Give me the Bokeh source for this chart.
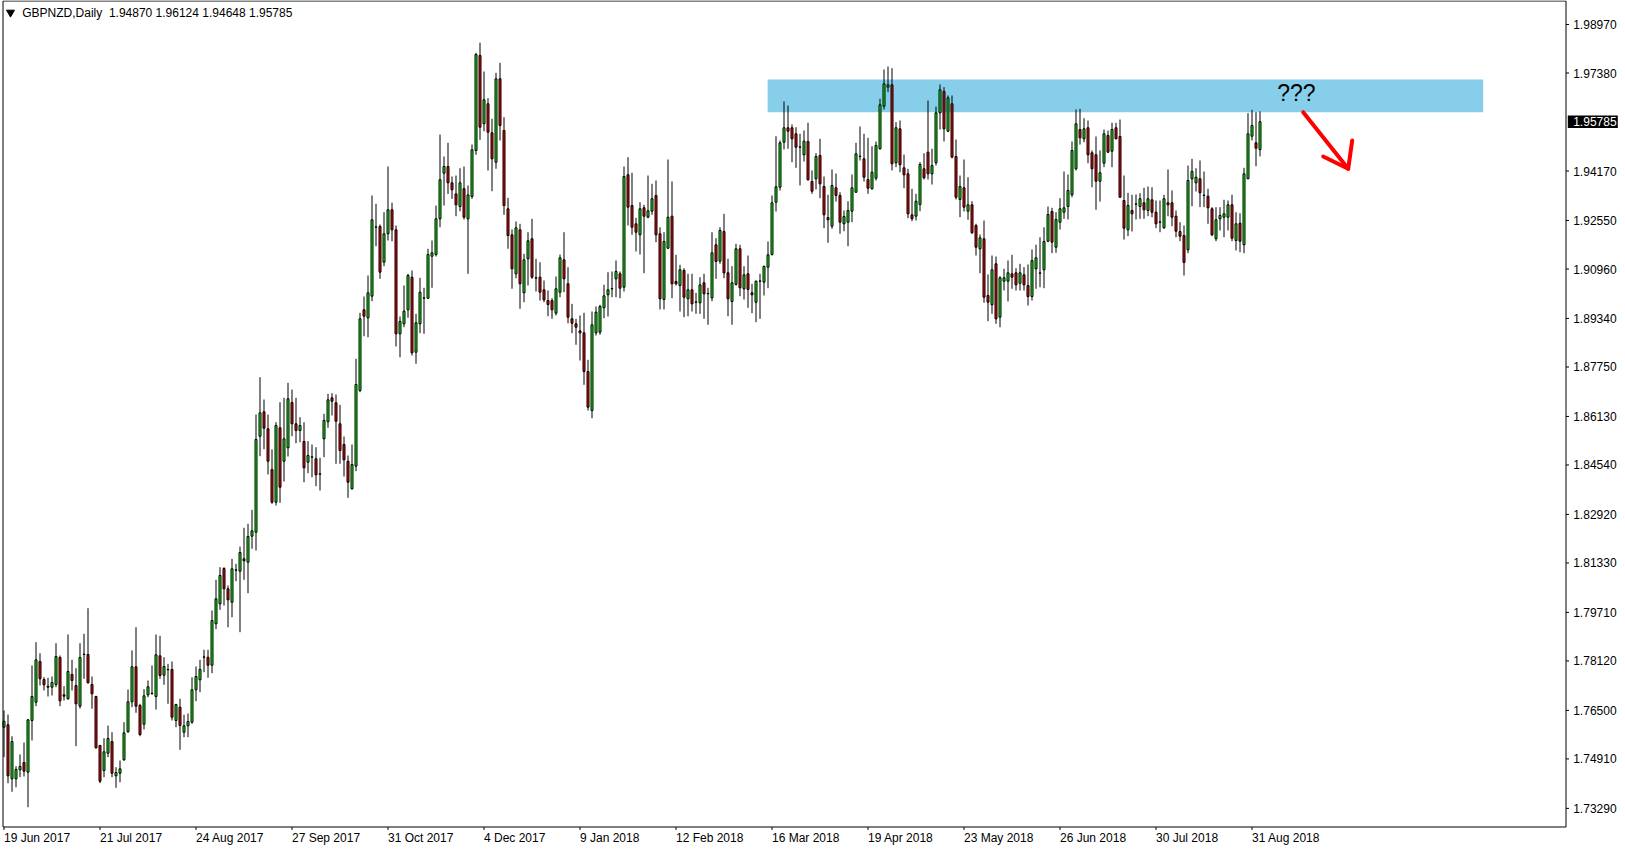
from bokeh.plotting import figure
from bokeh.models import Range1d, ColumnDataSource
from bokeh.embed import file_html
from bokeh.resources import INLINE
from bokeh.core.properties import value

SYMBOL = "GBPNZD,Daily"

OPEN = [
    1.75949, 1.76028, 1.74259, 1.74259, 1.74554, 1.74793, 1.74475, 1.76169, 1.76768, 1.78102,
    1.77512, 1.77292, 1.77260, 1.77348, 1.78233, 1.77011, 1.76880, 1.77676, 1.77315, 1.76637,
    1.78331, 1.78331, 1.77348, 1.76955, 1.75350, 1.74531, 1.75098, 1.75481, 1.74357, 1.74442,
    1.74881, 1.75799, 1.76781, 1.77928, 1.76660, 1.76048, 1.77011, 1.77053, 1.76955, 1.78288,
    1.77653, 1.77841, 1.77841, 1.76169, 1.76605, 1.75786, 1.75995, 1.76113, 1.77175, 1.77502,
    1.78242, 1.78242, 1.77980, 1.79337, 1.79992, 1.81148, 1.80483, 1.80044, 1.81093, 1.81060,
    1.81466, 1.81355, 1.82207, 1.82338, 1.85482, 1.86282, 1.85725, 1.84392, 1.83320, 1.85758,
    1.84663, 1.85102, 1.86586, 1.85889, 1.85669, 1.85309, 1.84631, 1.84795, 1.84742, 1.84238,
    1.85397, 1.85954, 1.86740, 1.86577, 1.85889, 1.85211, 1.84663, 1.83759, 1.84500, 1.86980,
    1.89623, 1.89361, 1.90069, 1.92329, 1.92352, 1.91183, 1.92113, 1.92899, 1.92244, 1.88837,
    1.89165, 1.89623, 1.90691, 1.88234, 1.89165, 1.90003, 1.90003, 1.91379, 1.91435, 1.92604,
    1.94098, 1.94318, 1.93784, 1.93420, 1.93007, 1.93591, 1.92604, 1.93335, 1.94842, 1.97954,
    1.95717, 1.96372, 1.95422, 1.94459, 1.97191, 1.95497, 1.92932, 1.92080, 1.90802, 1.92244,
    1.90180, 1.91294, 1.91950, 1.90672, 1.90691, 1.90278, 1.89928, 1.89928, 1.89512, 1.90200,
    1.91261, 1.90475, 1.89328, 1.89165, 1.88934, 1.88868, 1.87602, 1.86324, 1.88870, 1.88889,
    1.89689, 1.90115, 1.90311, 1.90639, 1.90802, 1.90364, 1.94046, 1.93040, 1.92440, 1.92080,
    1.92965, 1.92657, 1.92854, 1.93368, 1.92113, 1.89961, 1.91641, 1.92690, 1.90550, 1.90420,
    1.90911, 1.89984, 1.90278, 1.89872, 1.89853, 1.90508, 1.90147, 1.90016, 1.91753, 1.91216,
    1.92188, 1.90835, 1.89895, 1.90452, 1.91622, 1.90311, 1.90802, 1.90180, 1.89872, 1.90560,
    1.90528, 1.91019, 1.91435, 1.93148, 1.93640, 1.95114, 1.95586, 1.95586, 1.95389, 1.94950,
    1.94701, 1.95137, 1.93826, 1.93915, 1.94678, 1.93663, 1.92647, 1.92362, 1.93620, 1.93368,
    1.92440, 1.92493, 1.92854, 1.93476, 1.94645, 1.94570, 1.93892, 1.93587, 1.93935, 1.94898,
    1.96293, 1.96916, 1.96994, 1.94439, 1.95553, 1.94275, 1.94079, 1.92735, 1.92690, 1.93073,
    1.94243, 1.94786, 1.94079, 1.94439, 1.96077, 1.96775, 1.95474, 1.96372, 1.94645, 1.93237,
    1.93620, 1.92854, 1.93063, 1.92385, 1.91622, 1.91949, 1.90092, 1.89787, 1.91130, 1.89381,
    1.90560, 1.90560, 1.90802, 1.90835, 1.90495, 1.90770, 1.90420, 1.90059, 1.90966, 1.90822,
    1.90934, 1.91871, 1.92844, 1.91674, 1.92493, 1.92821, 1.93007, 1.93391, 1.94243, 1.95530,
    1.95225, 1.95586, 1.94767, 1.94701, 1.93836, 1.94426, 1.95334, 1.94819, 1.95586, 1.95301,
    1.93204, 1.92244, 1.92876, 1.93083, 1.93007, 1.93129, 1.92876, 1.93227, 1.92821, 1.92493,
    1.92310, 1.93129, 1.93129, 1.92690, 1.92188, 1.92057, 1.91589, 1.93915, 1.93784, 1.93915,
    1.93368, 1.93345, 1.92932, 1.91950, 1.92604, 1.92657, 1.92657, 1.93063, 1.91894, 1.92460,
    1.91753, 1.93915, 1.95310, 1.95094, 1.94870,
]

HIGH = [
    1.76496, 1.76365, 1.75654, 1.74672, 1.75055, 1.75448, 1.76220, 1.77971, 1.78734, 1.78374,
    1.77587, 1.77568, 1.77610, 1.78701, 1.78298, 1.77292, 1.78986, 1.78157, 1.77882, 1.78701,
    1.79009, 1.79848, 1.77610, 1.76980, 1.75370, 1.75589, 1.76005, 1.75786, 1.74639, 1.74858,
    1.76113, 1.77184, 1.78462, 1.79225, 1.76716, 1.77194, 1.77479, 1.77971, 1.78986, 1.78944,
    1.78242, 1.78026, 1.78102, 1.76716, 1.76880, 1.76356, 1.76398, 1.77587, 1.77938, 1.78157,
    1.78485, 1.78485, 1.79772, 1.80778, 1.81191, 1.81191, 1.80591, 1.81466, 1.81302, 1.81869,
    1.82482, 1.82613, 1.83071, 1.86193, 1.87415, 1.86685, 1.86193, 1.85047, 1.85941, 1.86596,
    1.86740, 1.87232, 1.87012, 1.86740, 1.86105, 1.85941, 1.85319, 1.85211, 1.85122, 1.84775,
    1.86216, 1.86871, 1.86891, 1.86849, 1.86511, 1.85473, 1.84850, 1.85211, 1.88018, 1.89525,
    1.90059, 1.90747, 1.93368, 1.93096, 1.92418, 1.92821, 1.94318, 1.93129, 1.92385, 1.89404,
    1.90420, 1.90803, 1.90911, 1.89492, 1.90672, 1.90344, 1.91622, 1.91894, 1.93040, 1.95366,
    1.94645, 1.95094, 1.93990, 1.94023, 1.94262, 1.94318, 1.93695, 1.95039, 1.98043, 1.98370,
    1.97430, 1.96555, 1.95881, 1.97387, 1.97715, 1.95934, 1.93292, 1.92254, 1.92516, 1.92440,
    1.91458, 1.92165, 1.92604, 1.91294, 1.91183, 1.90583, 1.90256, 1.90003, 1.90714, 1.91435,
    1.92165, 1.91019, 1.89819, 1.89328, 1.89437, 1.89525, 1.87985, 1.89568, 1.89731, 1.89787,
    1.90442, 1.90855, 1.90878, 1.91238, 1.90878, 1.94318, 1.94623, 1.94112, 1.92637, 1.93148,
    1.93063, 1.94023, 1.93751, 1.93859, 1.92329, 1.92165, 1.94547, 1.93826, 1.91425, 1.91098,
    1.90986, 1.90802, 1.90802, 1.90180, 1.90691, 1.90802, 1.90344, 1.92165, 1.91969, 1.92329,
    1.92768, 1.91294, 1.91052, 1.91786, 1.91753, 1.91052, 1.91402, 1.90475, 1.90583, 1.90802,
    1.91075, 1.91861, 1.93368, 1.95310, 1.95170, 1.96447, 1.96316, 1.95694, 1.95605, 1.95389,
    1.95497, 1.95749, 1.94187, 1.94754, 1.95225, 1.93990, 1.93391, 1.94220, 1.94088, 1.93476,
    1.92876, 1.93181, 1.94056, 1.95094, 1.95628, 1.95389, 1.95258, 1.94983, 1.95137, 1.96536,
    1.97496, 1.97594, 1.97538, 1.95769, 1.95825, 1.94711, 1.94243, 1.93587, 1.93424, 1.94459,
    1.94754, 1.96480, 1.94898, 1.96284, 1.97004, 1.96916, 1.96644, 1.96644, 1.95202, 1.94023,
    1.94547, 1.93967, 1.93181, 1.92440, 1.92090, 1.92549, 1.90780, 1.91402, 1.91370, 1.90724,
    1.90966, 1.91238, 1.91425, 1.90986, 1.91130, 1.91019, 1.91108, 1.91599, 1.91753, 1.92002,
    1.92329, 1.93007, 1.92965, 1.92821, 1.93280, 1.94154, 1.94056, 1.95137, 1.96185, 1.96208,
    1.95900, 1.95825, 1.94842, 1.95301, 1.94842, 1.95530, 1.95497, 1.95749, 1.95749, 1.95858,
    1.94023, 1.93456, 1.93391, 1.93401, 1.93443, 1.93620, 1.93663, 1.93640, 1.93204, 1.93204,
    1.93391, 1.94220, 1.93532, 1.92876, 1.92493, 1.92385, 1.94350, 1.94570, 1.94262, 1.94514,
    1.94154, 1.93587, 1.92985, 1.92985, 1.92985, 1.93227, 1.93204, 1.93391, 1.92821, 1.92788,
    1.94276, 1.96064, 1.96175, 1.96097, 1.96124,
]

LOW = [
    1.74967, 1.74115, 1.73833, 1.73984, 1.74311, 1.74334, 1.73329, 1.75514, 1.76637, 1.77315,
    1.77152, 1.76955, 1.76988, 1.77260, 1.76637, 1.76824, 1.76850, 1.77152, 1.75327, 1.76562,
    1.77535, 1.77380, 1.76552, 1.75250, 1.74115, 1.74311, 1.74967, 1.74311, 1.73964, 1.74148,
    1.74850, 1.75770, 1.76605, 1.76421, 1.75654, 1.75874, 1.76932, 1.77011, 1.76529, 1.77535,
    1.77338, 1.76716, 1.76169, 1.75949, 1.75209, 1.75622, 1.75622, 1.76061, 1.76801, 1.77096,
    1.77751, 1.77568, 1.77718, 1.79160, 1.79795, 1.79936, 1.79225, 1.79553, 1.80732, 1.79062,
    1.80778, 1.80339, 1.81794, 1.81738, 1.84827, 1.85057, 1.84228, 1.83268, 1.83212, 1.83301,
    1.83998, 1.84817, 1.85482, 1.85253, 1.85286, 1.83976, 1.84270, 1.84139, 1.83844, 1.83704,
    1.84795, 1.85758, 1.86161, 1.84578, 1.84578, 1.84162, 1.83464, 1.83736, 1.84336, 1.86924,
    1.88758, 1.88726, 1.89905, 1.91707, 1.90639, 1.91052, 1.91894, 1.91871, 1.88421, 1.88071,
    1.89053, 1.89361, 1.88127, 1.87854, 1.88857, 1.88837, 1.89984, 1.90344, 1.91370, 1.92329,
    1.93040, 1.93420, 1.93257, 1.92690, 1.92853, 1.92582, 1.90803, 1.93260, 1.94701, 1.95192,
    1.95474, 1.94187, 1.93509, 1.94243, 1.95170, 1.92735, 1.91622, 1.90312, 1.90658, 1.89656,
    1.89872, 1.90420, 1.90639, 1.90223, 1.89928, 1.89872, 1.89413, 1.89328, 1.89437, 1.90036,
    1.90200, 1.89184, 1.88857, 1.88477, 1.87962, 1.87166, 1.86324, 1.86072, 1.88782, 1.88805,
    1.89348, 1.89404, 1.90036, 1.90036, 1.90003, 1.90223, 1.92385, 1.92080, 1.91533, 1.91435,
    1.90822, 1.92624, 1.92735, 1.91838, 1.89633, 1.89633, 1.91622, 1.90003, 1.90420, 1.89568,
    1.89381, 1.89413, 1.89568, 1.89492, 1.89492, 1.89328, 1.89132, 1.89905, 1.90639, 1.91130,
    1.90658, 1.89413, 1.89132, 1.90420, 1.90069, 1.89961, 1.89689, 1.89512, 1.89217, 1.89328,
    1.90092, 1.90331, 1.91402, 1.92844, 1.93532, 1.94875, 1.94898, 1.94459, 1.94275, 1.93695,
    1.94482, 1.93859, 1.93424, 1.93564, 1.93280, 1.92297, 1.91818, 1.92277, 1.93171, 1.92113,
    1.92198, 1.91707, 1.92493, 1.93456, 1.94514, 1.93826, 1.93424, 1.93564, 1.93859, 1.94875,
    1.96185, 1.96752, 1.94187, 1.94295, 1.94131, 1.93607, 1.92624, 1.92526, 1.92549, 1.92854,
    1.93892, 1.93892, 1.93728, 1.94351, 1.95530, 1.95137, 1.95442, 1.94590, 1.93237, 1.92657,
    1.92844, 1.92572, 1.92113, 1.91402, 1.90822, 1.89853, 1.89250, 1.89492, 1.89165, 1.89053,
    1.90256, 1.89895, 1.90311, 1.90256, 1.90256, 1.90256, 1.89764, 1.89928, 1.90311, 1.90364,
    1.90331, 1.91838, 1.91478, 1.91491, 1.92254, 1.92604, 1.92582, 1.93312, 1.94187, 1.95039,
    1.95114, 1.94426, 1.93640, 1.92899, 1.93171, 1.94295, 1.94776, 1.94295, 1.95215, 1.93302,
    1.91926, 1.92035, 1.92188, 1.92582, 1.92604, 1.92604, 1.92690, 1.92657, 1.92297, 1.92165,
    1.92277, 1.92690, 1.92362, 1.92002, 1.91871, 1.90747, 1.91478, 1.93017, 1.93499, 1.92985,
    1.92985, 1.92440, 1.92035, 1.91871, 1.92221, 1.92002, 1.92221, 1.91871, 1.91566, 1.91510,
    1.91478, 1.93905, 1.95170, 1.94328, 1.94648,
]

CLOSE = [
    1.76146, 1.74357, 1.75481, 1.74564, 1.74662, 1.74508, 1.76192, 1.76955, 1.78157, 1.77535,
    1.77338, 1.77260, 1.77414, 1.78265, 1.76814, 1.76965, 1.77774, 1.77479, 1.76716, 1.78233,
    1.78341, 1.77404, 1.77043, 1.75274, 1.74180, 1.75143, 1.75579, 1.74442, 1.74465, 1.74586,
    1.75766, 1.76781, 1.77928, 1.76637, 1.75710, 1.76978, 1.77273, 1.77063, 1.78321, 1.77643,
    1.77938, 1.77831, 1.76277, 1.76693, 1.76005, 1.75995, 1.76136, 1.77175, 1.77610, 1.77841,
    1.78252, 1.77980, 1.79445, 1.80156, 1.80919, 1.80483, 1.80123, 1.81138, 1.81103, 1.81672,
    1.81401, 1.82197, 1.82383, 1.85374, 1.86249, 1.85745, 1.84663, 1.83320, 1.85833, 1.83812,
    1.85397, 1.86708, 1.85889, 1.85669, 1.85833, 1.84447, 1.84850, 1.84805, 1.84218, 1.84248,
    1.85997, 1.86675, 1.86629, 1.85974, 1.85014, 1.84709, 1.83976, 1.84555, 1.87176, 1.89328,
    1.89414, 1.90180, 1.92572, 1.92339, 1.90856, 1.92113, 1.92899, 1.92244, 1.88837, 1.89240,
    1.89578, 1.90747, 1.88215, 1.89198, 1.90200, 1.90013, 1.91435, 1.91491, 1.92604, 1.93882,
    1.94318, 1.93784, 1.93555, 1.93063, 1.93784, 1.92657, 1.93387, 1.94865, 1.97987, 1.95605,
    1.96503, 1.95442, 1.94570, 1.97191, 1.95661, 1.93040, 1.92057, 1.90967, 1.92310, 1.90475,
    1.91261, 1.91884, 1.90691, 1.90662, 1.90200, 1.89951, 1.89797, 1.89623, 1.90311, 1.91327,
    1.90639, 1.89381, 1.89184, 1.89053, 1.88868, 1.87602, 1.86433, 1.89132, 1.89545, 1.89731,
    1.90082, 1.90278, 1.90321, 1.90878, 1.90331, 1.93990, 1.92985, 1.92329, 1.92165, 1.92932,
    1.92690, 1.92867, 1.93260, 1.92080, 1.89984, 1.91861, 1.92657, 1.90475, 1.90475, 1.90934,
    1.90036, 1.90278, 1.89820, 1.89882, 1.90442, 1.90147, 1.90157, 1.91491, 1.91206, 1.92221,
    1.90835, 1.89984, 1.90508, 1.91622, 1.90344, 1.90770, 1.90288, 1.90115, 1.90560, 1.90570,
    1.91042, 1.91425, 1.93129, 1.93653, 1.95094, 1.95586, 1.95474, 1.95225, 1.94950, 1.94960,
    1.95147, 1.93882, 1.93509, 1.94645, 1.93751, 1.92735, 1.92572, 1.93695, 1.93368, 1.92493,
    1.92680, 1.92876, 1.93620, 1.94734, 1.94655, 1.93967, 1.93607, 1.94131, 1.95006, 1.96339,
    1.97027, 1.96994, 1.94406, 1.95586, 1.94374, 1.94046, 1.92768, 1.92604, 1.93181, 1.94383,
    1.93948, 1.94079, 1.94351, 1.96077, 1.96831, 1.95553, 1.96568, 1.94623, 1.93312, 1.93663,
    1.92985, 1.93063, 1.92146, 1.91674, 1.91982, 1.90036, 1.89872, 1.90934, 1.89328, 1.90672,
    1.90672, 1.90835, 1.90691, 1.90442, 1.90835, 1.90442, 1.90059, 1.91238, 1.91327, 1.90832,
    1.91861, 1.92745, 1.91838, 1.92581, 1.92932, 1.92965, 1.93532, 1.94842, 1.95717, 1.95258,
    1.95553, 1.94701, 1.94243, 1.93836, 1.94112, 1.95389, 1.94786, 1.95530, 1.95225, 1.93312,
    1.92297, 1.93040, 1.92768, 1.93093, 1.93260, 1.92899, 1.93260, 1.92821, 1.92440, 1.92503,
    1.93260, 1.93063, 1.92657, 1.92198, 1.92035, 1.91173, 1.93859, 1.94154, 1.93967, 1.93457,
    1.93378, 1.92965, 1.92080, 1.92572, 1.92713, 1.92768, 1.93063, 1.91969, 1.92440, 1.91871,
    1.94079, 1.95389, 1.95661, 1.94918, 1.95785,
]

DATE_LABELS = ["19 Jun 2017", "21 Jul 2017", "24 Aug 2017", "27 Sep 2017", "31 Oct 2017",
               "4 Dec 2017", "9 Jan 2018", "12 Feb 2018", "16 Mar 2018", "19 Apr 2018",
               "23 May 2018", "26 Jun 2018", "30 Jul 2018", "31 Aug 2018"]
BARS_PER_DATE_LABEL = 24

PRICE_TICKS = [1.98970, 1.97380, 1.94170, 1.92550, 1.90960, 1.89340, 1.87750, 1.86130,
               1.84540, 1.82920, 1.81330, 1.79710, 1.78120, 1.76500, 1.74910, 1.73290]

# drawn objects on the chart
ZONE_TOP = 1.97168
ZONE_BOTTOM = 1.96097
ZONE_FIRST_BAR = 190.9
ZONE_LAST_BAR = 369.8
NOTE_TEXT = "???"
NOTE_BAR = 318.3
NOTE_PRICE = 1.96742
ARROW_BARS = [[324.8, 336.05], [329.8, 336.05, 337.05]]
ARROW_PRICES = [[1.96097, 1.94243], [1.94646, 1.94243, 1.95170]]

# layout of the chart window (bar index / price units)
X_START, X_END = -0.875, 404.625
Y_START, Y_END = 1.71943, 1.99756
CHART_LEFT, CHART_RIGHT = -0.25, 390.5
CHART_TOP, CHART_BOTTOM = 1.99740, 1.72680
TICK_RIGHT = 391.25
TICK_BELOW = 1.72582
PRICE_LABEL_X = 392.3
DATE_LABEL_Y = 1.72313
LAST_BOX_LEFT, LAST_BOX_RIGHT = 390.95, 403.45
LAST_BOX_HALF = 0.00205
HEADER_X, HEADER_Y = 4.55, 1.99337
MARK_X, MARK_Y = 1.625, 1.99363

FONT = "Liberation Sans"

n = len(OPEN)
xs = list(range(n))
top = [max(o, c) for o, c in zip(OPEN, CLOSE)]
bot = [min(o, c) for o, c in zip(OPEN, CLOSE)]
col = ["#00FF00" if c >= o else "#FF0000" for o, c in zip(OPEN, CLOSE)]
src = ColumnDataSource(dict(x=xs, o=OPEN, h=HIGH, l=LOW, c=CLOSE, top=top, bot=bot, col=col))

p = figure(width=1622, height=849, output_backend="svg", toolbar_location=None,
           x_range=Range1d(X_START, X_END), y_range=Range1d(Y_START, Y_END),
           x_axis_location=None, y_axis_location=None,
           min_border_left=0, min_border_top=0, min_border_right=0, min_border_bottom=0,
           background_fill_color="white", border_fill_color="white",
           outline_line_color=None)
p.xgrid.visible = False
p.ygrid.visible = False

# resistance zone (behind candles)
p.quad(left=[ZONE_FIRST_BAR], right=[ZONE_LAST_BAR], top=[ZONE_TOP], bottom=[ZONE_BOTTOM],
       fill_color="#87CEEB", line_color=None)

# candles
p.segment(x0="x", y0="l", x1="x", y1="h", source=src, line_color="black", line_width=1)
p.vbar(x="x", width=0.5, top="top", bottom="bot", source=src, fill_color="col",
       line_color="black", line_width=1)

# note and arrow
p.text(x=[NOTE_BAR], y=[NOTE_PRICE], text=[NOTE_TEXT], text_font=value(FONT),
       text_font_size="23px", text_color="black", text_baseline="middle", text_align="left",
       text_line_height=1.0)
p.multi_line(xs=ARROW_BARS, ys=ARROW_PRICES, line_color="#FF0000", line_width=4,
             line_cap="round", line_join="round")

# chart border
p.quad(left=[CHART_LEFT], right=[CHART_RIGHT], top=[CHART_TOP], bottom=[CHART_BOTTOM],
       fill_color=None, line_color="black", line_width=1)

# header
p.scatter(x=[MARK_X], y=[MARK_Y], marker="inverted_triangle", size=8,
          fill_color="black", line_color="black")
header = f"{SYMBOL}\u00a0 {OPEN[-1]:.5f} {HIGH[-1]:.5f} {LOW[-1]:.5f} {CLOSE[-1]:.5f}"
p.text(x=[HEADER_X], y=[HEADER_Y], text=[header], text_font=value(FONT),
       text_font_size="12px", text_color="black", text_baseline="middle", text_align="left",
       text_line_height=1.0)

# price scale
p.segment(x0=[CHART_RIGHT] * len(PRICE_TICKS), y0=PRICE_TICKS,
          x1=[TICK_RIGHT] * len(PRICE_TICKS), y1=PRICE_TICKS, line_color="black", line_width=1)
p.text(x=[PRICE_LABEL_X] * len(PRICE_TICKS), y=PRICE_TICKS,
       text=[f"{t:.5f}" for t in PRICE_TICKS], text_font=value(FONT), text_font_size="12px",
       text_color="black", text_baseline="middle", text_align="left", text_line_height=1.0)

# last price marker
last = CLOSE[-1]
p.quad(left=[LAST_BOX_LEFT], right=[LAST_BOX_RIGHT], top=[last + LAST_BOX_HALF],
       bottom=[last - LAST_BOX_HALF], fill_color="black", line_color=None)
p.text(x=[PRICE_LABEL_X], y=[last], text=[f"{last:.5f}"], text_font=value(FONT),
       text_font_size="12px", text_color="white", text_baseline="middle", text_align="left",
       text_line_height=1.0)

# time scale
date_ticks = [k * BARS_PER_DATE_LABEL for k in range(len(DATE_LABELS))]
p.segment(x0=date_ticks, y0=[CHART_BOTTOM] * len(date_ticks), x1=date_ticks,
          y1=[TICK_BELOW] * len(date_ticks), line_color="black", line_width=1)
p.text(x=date_ticks, y=[DATE_LABEL_Y] * len(date_ticks), text=DATE_LABELS,
       text_font=value(FONT), text_font_size="12px", text_color="black",
       text_baseline="middle", text_align="left", text_line_height=1.0)

open("out.html", "w").write(file_html(p, INLINE))
